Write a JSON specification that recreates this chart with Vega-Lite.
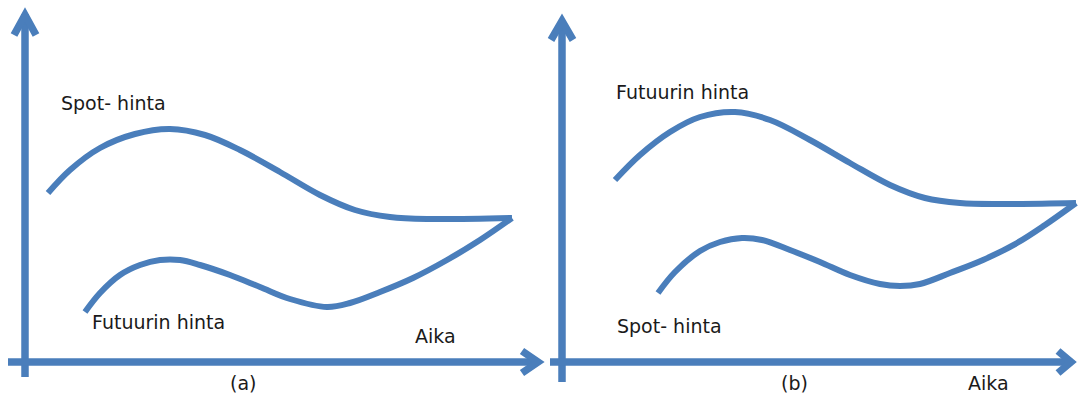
{
  "$schema": "https://vega.github.io/schema/vega-lite/v6.json",
  "width": 1080,
  "height": 397,
  "autosize": {"type": "none"},
  "padding": 0,
  "background": "white",
  "config": {"view": {"stroke": null}},
  "datasets": {
    "lines": [
      {"kind": "axis", "s": "a_y", "o": 1, "x": 25, "y": 377},
      {"kind": "axis", "s": "a_y", "o": 2, "x": 25, "y": 14},
      {"kind": "axis", "s": "a_yh", "o": 1, "x": 14, "y": 35},
      {"kind": "axis", "s": "a_yh", "o": 2, "x": 25, "y": 15},
      {"kind": "axis", "s": "a_yh", "o": 3, "x": 36, "y": 35},
      {"kind": "axis", "s": "a_x", "o": 1, "x": 8, "y": 362},
      {"kind": "axis", "s": "a_x", "o": 2, "x": 536, "y": 362},
      {"kind": "axis", "s": "a_xh", "o": 1, "x": 522, "y": 351},
      {"kind": "axis", "s": "a_xh", "o": 2, "x": 538, "y": 362},
      {"kind": "axis", "s": "a_xh", "o": 3, "x": 522, "y": 373},
      {"kind": "axis", "s": "b_y", "o": 1, "x": 562, "y": 382},
      {"kind": "axis", "s": "b_y", "o": 2, "x": 562, "y": 22},
      {"kind": "axis", "s": "b_yh", "o": 1, "x": 551, "y": 40},
      {"kind": "axis", "s": "b_yh", "o": 2, "x": 562, "y": 21},
      {"kind": "axis", "s": "b_yh", "o": 3, "x": 573, "y": 40},
      {"kind": "axis", "s": "b_x", "o": 1, "x": 550, "y": 362},
      {"kind": "axis", "s": "b_x", "o": 2, "x": 1069, "y": 362},
      {"kind": "axis", "s": "b_xh", "o": 1, "x": 1058, "y": 351},
      {"kind": "axis", "s": "b_xh", "o": 2, "x": 1071, "y": 362},
      {"kind": "axis", "s": "b_xh", "o": 3, "x": 1058, "y": 373},

      {"kind": "curve", "s": "a_spot", "o": 1, "x": 48, "y": 193},
      {"kind": "curve", "s": "a_spot", "o": 2, "x": 70, "y": 170},
      {"kind": "curve", "s": "a_spot", "o": 3, "x": 100, "y": 148},
      {"kind": "curve", "s": "a_spot", "o": 4, "x": 135, "y": 134},
      {"kind": "curve", "s": "a_spot", "o": 5, "x": 170, "y": 129},
      {"kind": "curve", "s": "a_spot", "o": 6, "x": 205, "y": 135},
      {"kind": "curve", "s": "a_spot", "o": 7, "x": 240, "y": 150},
      {"kind": "curve", "s": "a_spot", "o": 8, "x": 280, "y": 172},
      {"kind": "curve", "s": "a_spot", "o": 9, "x": 320, "y": 195},
      {"kind": "curve", "s": "a_spot", "o": 10, "x": 355, "y": 210},
      {"kind": "curve", "s": "a_spot", "o": 11, "x": 390, "y": 217},
      {"kind": "curve", "s": "a_spot", "o": 12, "x": 430, "y": 219},
      {"kind": "curve", "s": "a_spot", "o": 13, "x": 512, "y": 218},

      {"kind": "curve", "s": "a_fut", "o": 1, "x": 85, "y": 312},
      {"kind": "curve", "s": "a_fut", "o": 2, "x": 100, "y": 293},
      {"kind": "curve", "s": "a_fut", "o": 3, "x": 120, "y": 275},
      {"kind": "curve", "s": "a_fut", "o": 4, "x": 140, "y": 265},
      {"kind": "curve", "s": "a_fut", "o": 5, "x": 160, "y": 260},
      {"kind": "curve", "s": "a_fut", "o": 6, "x": 180, "y": 260},
      {"kind": "curve", "s": "a_fut", "o": 7, "x": 200, "y": 265},
      {"kind": "curve", "s": "a_fut", "o": 8, "x": 230, "y": 275},
      {"kind": "curve", "s": "a_fut", "o": 9, "x": 260, "y": 287},
      {"kind": "curve", "s": "a_fut", "o": 10, "x": 290, "y": 299},
      {"kind": "curve", "s": "a_fut", "o": 11, "x": 327, "y": 307},
      {"kind": "curve", "s": "a_fut", "o": 12, "x": 350, "y": 303},
      {"kind": "curve", "s": "a_fut", "o": 13, "x": 380, "y": 292},
      {"kind": "curve", "s": "a_fut", "o": 14, "x": 413, "y": 278},
      {"kind": "curve", "s": "a_fut", "o": 15, "x": 447, "y": 260},
      {"kind": "curve", "s": "a_fut", "o": 16, "x": 480, "y": 240},
      {"kind": "curve", "s": "a_fut", "o": 17, "x": 512, "y": 218},

      {"kind": "curve", "s": "b_fut", "o": 1, "x": 615, "y": 180},
      {"kind": "curve", "s": "b_fut", "o": 2, "x": 640, "y": 155},
      {"kind": "curve", "s": "b_fut", "o": 3, "x": 670, "y": 132},
      {"kind": "curve", "s": "b_fut", "o": 4, "x": 700, "y": 117},
      {"kind": "curve", "s": "b_fut", "o": 5, "x": 735, "y": 112},
      {"kind": "curve", "s": "b_fut", "o": 6, "x": 770, "y": 120},
      {"kind": "curve", "s": "b_fut", "o": 7, "x": 810, "y": 140},
      {"kind": "curve", "s": "b_fut", "o": 8, "x": 850, "y": 163},
      {"kind": "curve", "s": "b_fut", "o": 9, "x": 890, "y": 185},
      {"kind": "curve", "s": "b_fut", "o": 10, "x": 925, "y": 198},
      {"kind": "curve", "s": "b_fut", "o": 11, "x": 960, "y": 203},
      {"kind": "curve", "s": "b_fut", "o": 12, "x": 1000, "y": 204},
      {"kind": "curve", "s": "b_fut", "o": 13, "x": 1076, "y": 203},

      {"kind": "curve", "s": "b_spot", "o": 1, "x": 658, "y": 293},
      {"kind": "curve", "s": "b_spot", "o": 2, "x": 675, "y": 272},
      {"kind": "curve", "s": "b_spot", "o": 3, "x": 700, "y": 251},
      {"kind": "curve", "s": "b_spot", "o": 4, "x": 720, "y": 242},
      {"kind": "curve", "s": "b_spot", "o": 5, "x": 742, "y": 238},
      {"kind": "curve", "s": "b_spot", "o": 6, "x": 762, "y": 240},
      {"kind": "curve", "s": "b_spot", "o": 7, "x": 790, "y": 250},
      {"kind": "curve", "s": "b_spot", "o": 8, "x": 820, "y": 262},
      {"kind": "curve", "s": "b_spot", "o": 9, "x": 850, "y": 275},
      {"kind": "curve", "s": "b_spot", "o": 10, "x": 880, "y": 284},
      {"kind": "curve", "s": "b_spot", "o": 11, "x": 900, "y": 286},
      {"kind": "curve", "s": "b_spot", "o": 12, "x": 920, "y": 284},
      {"kind": "curve", "s": "b_spot", "o": 13, "x": 950, "y": 273},
      {"kind": "curve", "s": "b_spot", "o": 14, "x": 983, "y": 260},
      {"kind": "curve", "s": "b_spot", "o": 15, "x": 1017, "y": 243},
      {"kind": "curve", "s": "b_spot", "o": 16, "x": 1045, "y": 225},
      {"kind": "curve", "s": "b_spot", "o": 17, "x": 1076, "y": 203}
    ],
    "labels": [
      {"t": "Spot- hinta", "x": 61, "y": 104},
      {"t": "Futuurin hinta", "x": 92, "y": 323},
      {"t": "Aika", "x": 415, "y": 337},
      {"t": "(a)", "x": 230, "y": 384},
      {"t": "Futuurin hinta", "x": 616, "y": 93},
      {"t": "Spot- hinta", "x": 617, "y": 327},
      {"t": "Aika", "x": 968, "y": 384},
      {"t": "(b)", "x": 781, "y": 384}
    ]
  },
  "encoding": {
    "x": {"field": "x", "type": "quantitative", "scale": {"domain": [0, 1080], "nice": false, "zero": false}, "axis": null},
    "y": {"field": "y", "type": "quantitative", "scale": {"domain": [0, 397], "nice": false, "zero": false, "reverse": true}, "axis": null}
  },
  "layer": [
    {
      "data": {"name": "lines"},
      "transform": [{"filter": "datum.kind === 'axis'"}],
      "mark": {"type": "line", "color": "#4a7ebb", "strokeWidth": 7.5, "strokeJoin": "miter", "strokeCap": "butt", "interpolate": "linear"},
      "encoding": {
        "detail": {"field": "s", "type": "nominal"},
        "order": {"field": "o", "type": "quantitative"}
      }
    },
    {
      "data": {"name": "lines"},
      "transform": [{"filter": "datum.kind === 'curve'"}],
      "mark": {"type": "line", "color": "#4a7ebb", "strokeWidth": 6, "strokeCap": "butt", "interpolate": "catmull-rom"},
      "encoding": {
        "detail": {"field": "s", "type": "nominal"},
        "order": {"field": "o", "type": "quantitative"}
      }
    },
    {
      "data": {"name": "labels"},
      "mark": {"type": "text", "align": "left", "baseline": "middle", "font": "DejaVu Sans", "fontSize": 19, "color": "#1a1a1a"},
      "encoding": {
        "text": {"field": "t", "type": "nominal"}
      }
    }
  ]
}
